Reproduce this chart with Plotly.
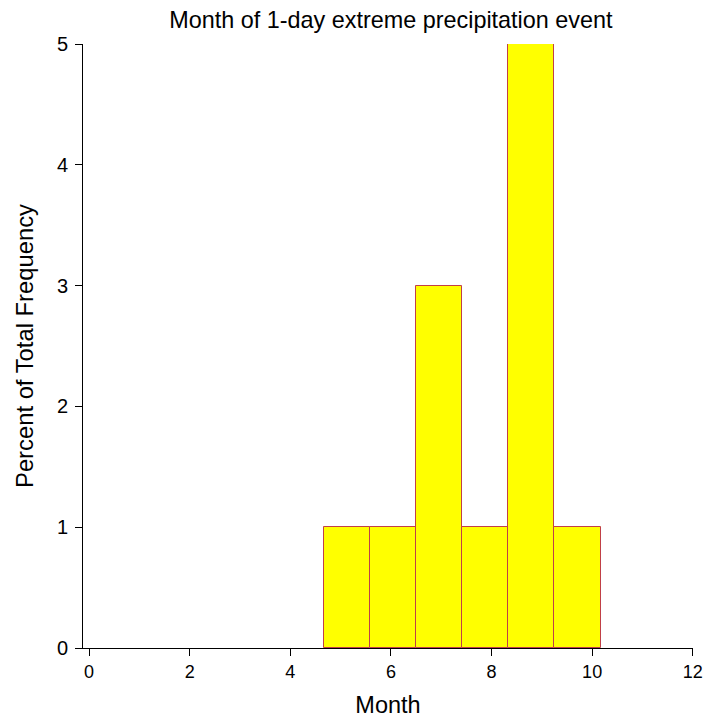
import plotly.graph_objects as go

# Histogram bins (month), width = 11/12
bin_width = 11 / 12
bin_start = 14 / 3  # left edge of first bin
bin_centers = [bin_start + bin_width * (i + 0.5) for i in range(6)]
percent = [1, 1, 3, 1, 5, 1]

x_ticks = [0, 2, 4, 6, 8, 10, 12]
y_ticks = [0, 1, 2, 3, 4, 5]

FONT = "Liberation Sans, Arial, sans-serif"

fig = go.Figure(
    go.Bar(
        x=bin_centers,
        y=percent,
        width=bin_width,
        marker=dict(color="#FFFF00", line=dict(color="#C04048", width=1)),
        showlegend=False,
    )
)

fig.update_layout(
    width=703,
    height=718,
    margin=dict(l=83, r=10, t=44, b=70),
    paper_bgcolor="white",
    plot_bgcolor="white",
    bargap=0,
    font=dict(family=FONT, color="black"),
    title=dict(
        text="Month of 1-day extreme precipitation event",
        x=0.556, xanchor="center",
        y=0.972, yanchor="middle",
        yref="container",
        font=dict(size=23.4, family=FONT, color="black"),
    ),
)

fig.update_xaxes(
    range=[-0.12, 12.005],
    automargin=False,
    tickmode="array",
    tickvals=x_ticks,
    ticktext=[str(v) for v in x_ticks],
    ticks="outside",
    ticklen=7,
    tickcolor="black",
    showline=True,
    linecolor="black",
    linewidth=1,
    showgrid=False,
    zeroline=False,
    tickfont=dict(size=18, family=FONT, color="black"),
    title=dict(text="Month", font=dict(size=23.5, family=FONT, color="black"), standoff=23),
)

fig.update_yaxes(
    range=[0, 5],
    automargin=False,
    tickmode="array",
    tickvals=y_ticks,
    ticktext=[str(v) for v in y_ticks],
    ticks="outside",
    ticklen=7,
    tickcolor="black",
    ticklabelstandoff=3,
    showline=True,
    linecolor="black",
    linewidth=1,
    showgrid=False,
    zeroline=False,
    tickfont=dict(size=20, family=FONT, color="black"),
    title=dict(text="Percent of Total Frequency", font=dict(size=23.8, family=FONT, color="black"), standoff=16),
)

fig.write_html("out.html")
